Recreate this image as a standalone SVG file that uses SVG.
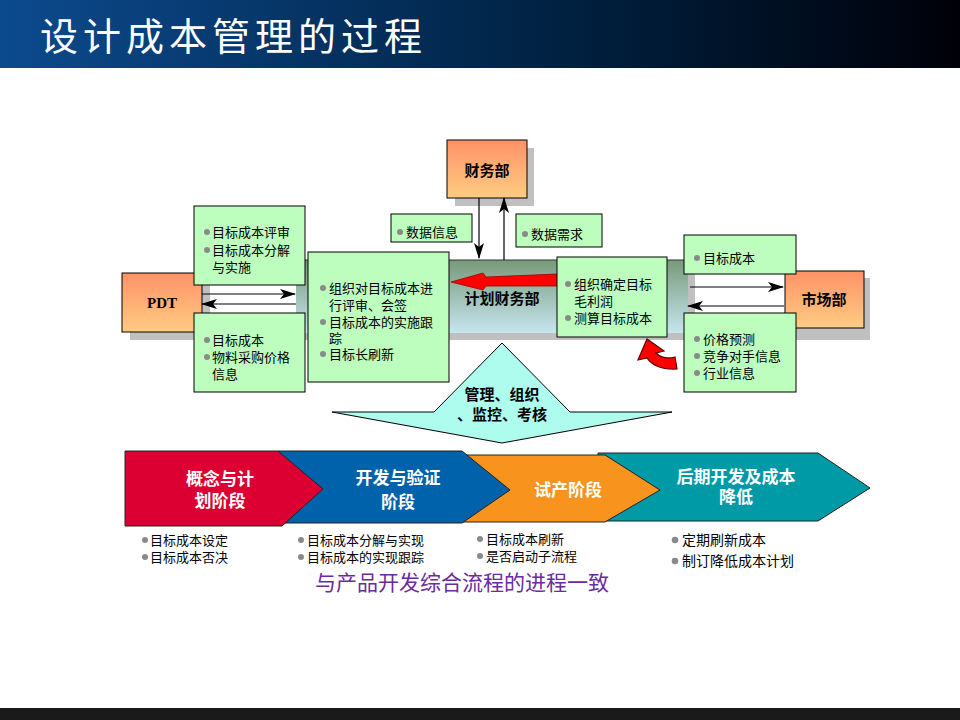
<svg xmlns="http://www.w3.org/2000/svg" width="960" height="720" viewBox="0 0 960 720">
<defs>
<linearGradient id="gTitle" x1="0" y1="0" x2="1" y2="0">
<stop offset="0" stop-color="#0c4a8e"/>
<stop offset="0.6" stop-color="#00203f"/>
<stop offset="1" stop-color="#000008"/>
</linearGradient>
<linearGradient id="gOrange" x1="0" y1="0" x2="0" y2="1">
<stop offset="0" stop-color="#ff9268"/>
<stop offset="1" stop-color="#ffcc82"/>
</linearGradient>
<linearGradient id="gBand" x1="0" y1="0" x2="0" y2="1">
<stop offset="0" stop-color="#78997a"/>
<stop offset="1" stop-color="#c6e6f0"/>
</linearGradient>
<marker id="ah" viewBox="0 0 16 10" refX="15" refY="5" markerWidth="16" markerHeight="10" markerUnits="userSpaceOnUse" orient="auto">
<path d="M0,0 L16,5 L0,10 L4,5 Z" fill="#000"/>
</marker>
<style>
.sh{fill:#c0c0c0}
.gb{fill:#bdfdbd;stroke:#000;stroke-width:1}
.dept{fill:url(#gOrange);stroke:#000;stroke-width:1}
.t{font-family:"Liberation Sans","Noto Sans CJK SC",sans-serif;font-size:13px;fill:#000}
.t14{font-family:"Liberation Sans","Noto Sans CJK SC",sans-serif;font-size:14px;fill:#000}
.b{fill:#8a8a8a}
.bold{font-family:"Liberation Sans","Noto Sans CJK SC",sans-serif;font-weight:bold;font-size:15px;fill:#000;text-anchor:middle}
.ct{font-family:"Liberation Sans","Noto Sans CJK SC",sans-serif;font-weight:bold;font-size:17px;fill:#fff;text-anchor:middle}
.ln{stroke:#000;stroke-width:1.2;fill:none;marker-end:url(#ah)}
.chev{stroke:#222;stroke-width:1}
</style>
</defs>

<rect x="0" y="0" width="960" height="720" fill="#fff"/>
<g id="titlebar">
<rect x="0" y="0" width="960" height="68" fill="url(#gTitle)"/>
<text x="40" y="50" font-family="Noto Sans CJK SC,sans-serif" font-size="38" letter-spacing="5" fill="#fff">设计成本管理的过程</text>
</g>
<rect x="0" y="708" width="960" height="12" fill="#1a1a1a"/>

<rect class="sh" x="130" y="333" width="740" height="7"/>

<g id="band">
<rect class="sh" x="303" y="267" width="392" height="73"/>
<rect x="296" y="260" width="392" height="73" fill="url(#gBand)"/>
<line x1="296" y1="260" x2="688" y2="260" stroke="#333" stroke-width="1"/>
<text class="bold" x="502" y="304">计划财务部</text>
</g>

<g id="pdt">
<rect class="sh" x="130" y="281" width="80" height="59"/>
<rect class="dept" x="122" y="273" width="80" height="59"/>
<text x="162" y="308" font-family="Liberation Serif,serif" font-weight="bold" font-size="15" text-anchor="middle">PDT</text>
</g>

<g id="market">
<rect class="sh" x="792" y="278" width="78" height="57"/>
<rect class="dept" x="785" y="271" width="79" height="57"/>
<text class="bold" x="824" y="305">市场部</text>
</g>

<g id="finance">
<rect class="sh" x="455" y="148" width="79" height="58"/>
<rect class="dept" x="447" y="140" width="80" height="58"/>
<text class="bold" x="487" y="176">财务部</text>
</g>

<g id="connectors">
<line class="ln" x1="202" y1="294" x2="295" y2="294"/>
<line class="ln" x1="296" y1="304" x2="202" y2="304"/>
<line class="ln" x1="690" y1="287" x2="783" y2="287"/>
<line class="ln" x1="784" y1="306" x2="688" y2="306"/>
<line class="ln" x1="479" y1="198" x2="479" y2="258"/>
<line class="ln" x1="504" y1="260" x2="504" y2="198"/>
<path d="M451,282 L483,273 L486,277 L557,274 L557,286 L486,286 L483,290 Z" fill="#ff0000" stroke="#a00000" stroke-width="0.8"/>
<rect x="557" y="274" width="3" height="12" fill="#ff7060"/>
<path d="M677,369 Q655,370 647,358 L638,360 L647,339 L664,351 L656,353 Q663,360 675,357 Z" fill="#ff0000" stroke="#600000" stroke-width="1.2"/>
</g>

<g id="box-tl">
<rect class="gb" x="194" y="206" width="111" height="79"/>
<circle class="b" cx="207" cy="232" r="3"/><text class="t" x="212" y="237">目标成本评审</text>
<circle class="b" cx="207" cy="250" r="3"/><text class="t" x="212" y="255">目标成本分解</text>
<text class="t" x="212" y="272">与实施</text>
</g>

<g id="box-bl">
<rect class="gb" x="194" y="313" width="111" height="79"/>
<circle class="b" cx="207" cy="340" r="3"/><text class="t" x="212" y="345">目标成本</text>
<circle class="b" cx="207" cy="357" r="3"/><text class="t" x="212" y="362">物料采购价格</text>
<text class="t" x="212" y="379">信息</text>
</g>

<g id="box-ml">
<rect class="gb" x="308" y="252" width="141" height="130"/>
<circle class="b" cx="323" cy="288" r="3"/><text class="t" x="329" y="293">组织对目标成本进</text>
<text class="t" x="329" y="310">行评审、会签</text>
<circle class="b" cx="323" cy="322" r="3"/><text class="t" x="329" y="327">目标成本的实施跟</text>
<text class="t" x="329" y="343">踪</text>
<circle class="b" cx="323" cy="354" r="3"/><text class="t" x="329" y="359">目标长刷新</text>
</g>

<g id="box-info">
<rect class="gb" x="391" y="214" width="81" height="28"/>
<circle class="b" cx="400" cy="232" r="3"/><text class="t" x="406" y="237">数据信息</text>
</g>

<g id="box-need">
<rect class="gb" x="516" y="214" width="86" height="33"/>
<circle class="b" cx="525" cy="234" r="3"/><text class="t" x="531" y="239">数据需求</text>
</g>

<g id="box-mr">
<rect class="gb" x="557" y="257" width="110" height="80"/>
<circle class="b" cx="568" cy="284" r="3"/><text class="t" x="574" y="289">组织确定目标</text>
<text class="t" x="574" y="306">毛利润</text>
<circle class="b" cx="568" cy="318" r="3"/><text class="t" x="574" y="323">测算目标成本</text>
</g>

<g id="box-tr">
<rect class="gb" x="684" y="235" width="112" height="39"/>
<circle class="b" cx="697" cy="258" r="3"/><text class="t" x="703" y="263">目标成本</text>
</g>

<g id="box-br">
<rect class="gb" x="684" y="313" width="112" height="79"/>
<circle class="b" cx="697" cy="339" r="3"/><text class="t" x="703" y="344">价格预测</text>
<circle class="b" cx="697" cy="356" r="3"/><text class="t" x="703" y="361">竞争对手信息</text>
<circle class="b" cx="697" cy="373" r="3"/><text class="t" x="703" y="378">行业信息</text>
</g>

<g id="mgmt">
<path d="M502,343 L434,412 L332,412 L502,443 L672,412 L570,412 Z" fill="#aefcee" stroke="#000" stroke-width="1"/>
<text class="bold" x="502" y="400">管理、组织</text>
<text class="bold" x="502" y="420">、监控、考核</text>
</g>

<g id="phase4">
<path class="chev" d="M598,453 L818,453 L870,488 L818,521 L600,521 Z" fill="#0099a6"/>
<text class="ct" x="736" y="483">后期开发及成本</text>
<text class="ct" x="736" y="503">降低</text>
</g>
<g id="phase3">
<path class="chev" d="M463,455 L605,455 L660,490 L605,522 L463,522 Z" fill="#f8941d"/>
<text class="ct" x="568" y="496">试产阶段</text>
</g>
<g id="phase2">
<path class="chev" d="M278,451 L462,451 L510,490 L462,523 L280,523 Z" fill="#0062aa"/>
<text class="ct" x="398" y="484">开发与验证</text>
<text class="ct" x="398" y="508">阶段</text>
</g>
<g id="phase1">
<path class="chev" d="M125,451 L278,451 L323,489 L282,526 L125,526 Z" fill="#dc0032"/>
<text class="ct" x="220" y="485">概念与计</text>
<text class="ct" x="220" y="507">划阶段</text>
</g>

<g id="lists">
<circle class="b" cx="145" cy="540" r="3"/><text class="t" x="150" y="545">目标成本设定</text>
<circle class="b" cx="145" cy="557" r="3"/><text class="t" x="150" y="562">目标成本否决</text>
<circle class="b" cx="301" cy="540" r="3"/><text class="t" x="307" y="545">目标成本分解与实现</text>
<circle class="b" cx="301" cy="557" r="3"/><text class="t" x="307" y="562">目标成本的实现跟踪</text>
<circle class="b" cx="480" cy="539" r="3"/><text class="t" x="486" y="544">目标成本刷新</text>
<circle class="b" cx="480" cy="556" r="3"/><text class="t" x="486" y="561">是否启动子流程</text>
<circle class="b" cx="675" cy="540" r="3.3"/><text class="t14" x="682" y="545">定期刷新成本</text>
<circle class="b" cx="675" cy="561" r="3.3"/><text class="t14" x="682" y="566">制订降低成本计划</text>
</g>

<text x="462" y="590" font-family="Noto Sans CJK SC,sans-serif" font-size="21" fill="#6a2c9c" text-anchor="middle">与产品开发综合流程的进程一致</text>
</svg>
